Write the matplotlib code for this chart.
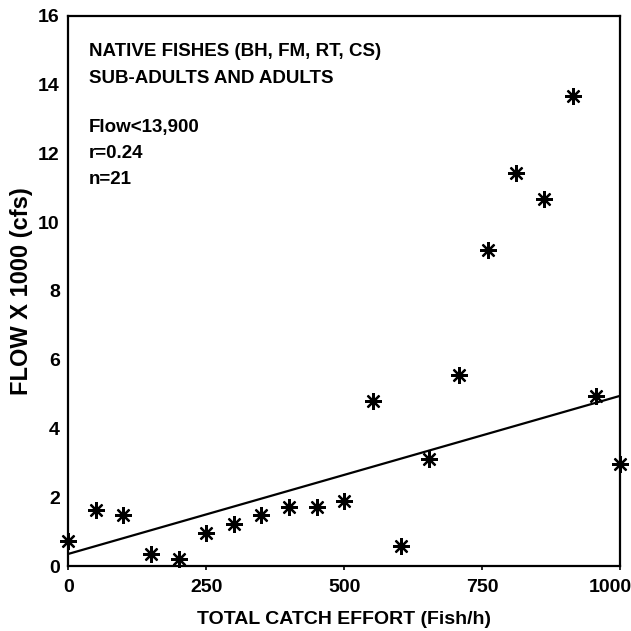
import matplotlib
matplotlib.use("Agg")
import matplotlib.pyplot as plt
from matplotlib.transforms import ScaledTranslation

plt.rcParams['font.family'] = ['Liberation Sans', 'DejaVu Sans']
plt.rcParams['font.weight'] = 'bold'

# catch effort (fish/h) vs flow x 1000 (cfs)
effort = [0, 50, 100, 150, 200, 250, 300, 350, 400, 450, 500,
          553, 602, 654, 708, 760, 811, 861, 915, 956, 1000]
flow = [0.72, 1.64, 1.47, 0.36, 0.20, 0.96, 1.22, 1.49, 1.73, 1.73, 1.89,
        4.80, 0.57, 3.10, 5.55, 9.19, 11.43, 10.66, 13.67, 4.95, 2.96]

# regression line end points
fit_x = [0, 1000]
fit_y = [0.35, 4.95]

x_ticks = [0, 250, 500, 750, 1000]
y_ticks = [0, 2, 4, 6, 8, 10, 12, 14, 16]

notes = ["NATIVE FISHES (BH, FM, RT, CS)", "SUB-ADULTS AND ADULTS",
         "Flow<13,900", "r=0.24", "n=21"]
note_y = [14.95, 14.17, 12.74, 12.0, 11.25]

fig = plt.figure(figsize=(6.31, 6.31), dpi=100)
ax = fig.add_axes([0.108, 0.103, 0.875, 0.872])

ax.plot(fit_x, fit_y, color='black', lw=1.6)
ax.plot(effort, flow, linestyle='none', marker=(8, 2, 0), markersize=12,
        markeredgewidth=1.6, color='black', clip_on=False)

for s, yy in zip(notes, note_y):
    ax.text(38, yy, s, fontsize=13.5, fontweight='bold', va='center', ha='left')

ax.set_xlim(0, 1000)
ax.set_ylim(0, 16)
ax.set_xticks(x_ticks)
ax.set_yticks(y_ticks)
ax.tick_params(axis='both', labelsize=14, length=3, width=1.2, pad=6)
ax.tick_params(axis='y', length=0)
for lab in ax.get_xticklabels() + ax.get_yticklabels():
    lab.set_fontweight('bold')
# keep the last x label inside the figure
last = ax.get_xticklabels()[-1]
last.set_transform(last.get_transform() + ScaledTranslation(-10 / 100, 0, fig.dpi_scale_trans))
for sp in ax.spines.values():
    sp.set_linewidth(1.6)

ax.set_xlabel('TOTAL CATCH EFFORT (Fish/h)', fontsize=14, fontweight='bold', labelpad=11)
ax.set_ylabel('FLOW X 1000 (cfs)', fontsize=17, fontweight='bold', labelpad=4)

fig.savefig('out.png', dpi=100)
